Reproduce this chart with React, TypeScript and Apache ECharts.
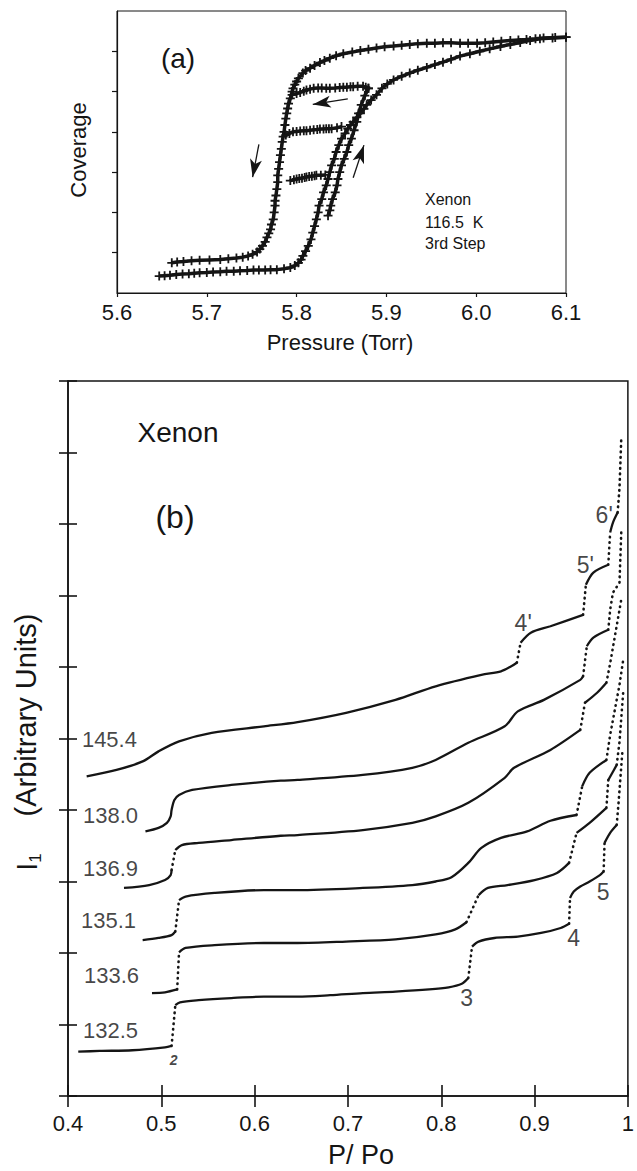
import React, { useEffect, useRef } from "react";
import * as echarts from "echarts";

const FONT = '"Liberation Sans", Arial, Helvetica, sans-serif';
const INK = "#151515";

// ---------------- Panel (a): Xenon 116.5 K, 3rd step ----------------
const pressureTickLabels = ["5.6", "5.7", "5.8", "5.9", "6.0", "6.1"];
const coverageTicks = [1, 2, 3, 4, 5, 6];

const adsorptionBranch = [
  [5.647, 0.42], [5.653, 0.43], [5.659, 0.44], [5.666, 0.46], [5.673, 0.47], [5.68, 0.48], [5.686, 0.49],
  [5.692, 0.5], [5.7, 0.51], [5.707, 0.52], [5.715, 0.53], [5.722, 0.54], [5.73, 0.54], [5.737, 0.55],
  [5.745, 0.56], [5.752, 0.57], [5.758, 0.57], [5.765, 0.57], [5.771, 0.58], [5.778, 0.58], [5.786, 0.6],
  [5.793, 0.63], [5.798, 0.68], [5.802, 0.75], [5.805, 0.83], [5.807, 0.92], [5.81, 1.04], [5.813, 1.17],
  [5.816, 1.33], [5.818, 1.5], [5.82, 1.66], [5.822, 1.83], [5.824, 2.0], [5.825, 2.17], [5.828, 2.33],
  [5.83, 2.5], [5.833, 2.67], [5.835, 2.83], [5.837, 3.0], [5.839, 3.17], [5.842, 3.33], [5.844, 3.5],
  [5.847, 3.67], [5.85, 3.83], [5.854, 3.96], [5.857, 4.08], [5.86, 4.17], [5.863, 4.25], [5.867, 4.36],
  [5.871, 4.46], [5.875, 4.57], [5.878, 4.67], [5.883, 4.79], [5.889, 4.92], [5.895, 5.08], [5.901, 5.19],
  [5.908, 5.29], [5.917, 5.38], [5.926, 5.46], [5.935, 5.53], [5.945, 5.6], [5.954, 5.67], [5.963, 5.73],
  [5.972, 5.8], [5.982, 5.88], [5.993, 5.94], [6.004, 6.0], [6.015, 6.06], [6.027, 6.12], [6.038, 6.17],
  [6.049, 6.22], [6.06, 6.27], [6.071, 6.31], [6.085, 6.33], [6.1, 6.35],
];
const desorptionBranch = [
  [6.1, 6.35], [6.088, 6.34], [6.075, 6.33], [6.066, 6.31], [6.056, 6.29], [6.047, 6.28], [6.038, 6.27],
  [6.028, 6.25], [6.019, 6.23], [6.01, 6.21], [6.001, 6.2], [5.991, 6.2], [5.982, 6.2], [5.972, 6.21],
  [5.963, 6.21], [5.954, 6.2], [5.945, 6.2], [5.935, 6.19], [5.926, 6.17], [5.917, 6.15], [5.908, 6.13],
  [5.898, 6.11], [5.889, 6.08], [5.88, 6.05], [5.871, 6.02], [5.862, 5.98], [5.852, 5.94], [5.844, 5.89],
  [5.837, 5.83], [5.831, 5.77], [5.826, 5.72], [5.82, 5.65], [5.815, 5.58], [5.81, 5.52], [5.807, 5.46],
  [5.802, 5.33], [5.8, 5.25], [5.798, 5.17], [5.796, 5.08], [5.795, 5.0], [5.793, 4.83], [5.791, 4.7],
  [5.79, 4.58], [5.789, 4.46], [5.788, 4.33], [5.787, 4.17], [5.786, 4.0], [5.785, 3.88], [5.784, 3.75],
  [5.783, 3.58], [5.782, 3.42], [5.781, 3.25], [5.78, 3.08], [5.779, 2.92], [5.779, 2.75], [5.778, 2.58],
  [5.777, 2.42], [5.776, 2.29], [5.776, 2.17], [5.775, 2.0], [5.774, 1.83], [5.772, 1.7], [5.771, 1.58],
  [5.769, 1.48], [5.767, 1.38], [5.765, 1.27], [5.762, 1.17], [5.759, 1.09], [5.756, 1.02], [5.751, 0.96],
  [5.746, 0.92], [5.74, 0.89], [5.733, 0.87], [5.724, 0.85], [5.715, 0.83], [5.703, 0.82], [5.692, 0.81],
  [5.683, 0.8], [5.674, 0.78], [5.667, 0.77], [5.661, 0.75],
];
const scanTop = [
  [5.795, 4.92], [5.8, 4.95], [5.804, 4.98], [5.808, 5.01], [5.811, 5.04], [5.815, 5.06], [5.819, 5.08],
  [5.824, 5.09], [5.828, 5.09], [5.833, 5.08], [5.837, 5.08], [5.843, 5.09], [5.848, 5.1], [5.852, 5.11],
  [5.856, 5.11], [5.86, 5.12], [5.863, 5.12], [5.868, 5.13], [5.874, 5.13], [5.877, 5.11], [5.88, 5.08],
];
const scanMiddle = [
  [5.788, 3.92], [5.792, 3.96], [5.796, 4.0], [5.8, 4.01], [5.804, 4.02], [5.808, 4.03], [5.811, 4.03],
  [5.815, 4.04], [5.819, 4.05], [5.823, 4.06], [5.826, 4.07], [5.83, 4.07], [5.833, 4.08], [5.836, 4.08],
  [5.839, 4.08], [5.845, 4.1], [5.85, 4.13],
];
const scanBottom = [
  [5.793, 2.79], [5.797, 2.81], [5.8, 2.83], [5.803, 2.84], [5.806, 2.85], [5.809, 2.87], [5.811, 2.88],
  [5.814, 2.89], [5.817, 2.9], [5.82, 2.91], [5.822, 2.92], [5.827, 2.92], [5.832, 2.93],
];
const scanRise = [
  [5.835, 1.92], [5.837, 2.05], [5.838, 2.17], [5.84, 2.33], [5.843, 2.5], [5.845, 2.67], [5.846, 2.83],
  [5.848, 3.0], [5.85, 3.17], [5.853, 3.33], [5.856, 3.5], [5.858, 3.67], [5.861, 3.83], [5.864, 4.04],
  [5.867, 4.25], [5.869, 4.46], [5.872, 4.67], [5.876, 4.9], [5.88, 5.08],
];
const arrowsA = [
  [[5.857, 4.82], [5.818, 4.68]],
  [[5.758, 3.69], [5.751, 2.875]],
  [[5.863, 2.86], [5.875, 3.67]],
];

// ---------------- Panel (b): Xenon isotherms, I1 vs P/Po ----------------
const ratioTickLabels = ["0.4", "0.5", "0.6", "0.7", "0.8", "0.9", "1"];
const temperatures = ["132.5", "133.6", "135.1", "136.9", "138.0", "145.4"];
const temperatureLabelAnchors = [
  [0.4455, 0.91], [0.4466, 1.69], [0.4434, 2.45], [0.4455, 3.18], [0.4455, 3.93], [0.4444, 4.98],
];
const stepLabels = ["3", "4", "5", "4'", "5'", "6'"];
const stepLabelAnchors = [
  [0.8272, 1.37], [0.9418, 2.21], [0.9735, 2.86], [0.8878, 6.62], [0.9545, 7.42], [0.9746, 8.13],
];
const secondLayerLabel = "2";
const secondLayerAnchor = [0.5132, 0.5];

const curve1325 = [
  [[0.411, 0.62], [0.434, 0.63], [0.469, 0.64], [0.504, 0.68], [0.511, 0.7]],
  [[0.515, 1.27], [0.52, 1.31], [0.54, 1.34], [0.575, 1.37], [0.61, 1.39], [0.646, 1.39], [0.681, 1.41],
   [0.716, 1.44], [0.751, 1.46], [0.787, 1.49], [0.808, 1.52], [0.822, 1.57], [0.829, 1.65]],
  [[0.833, 2.09], [0.84, 2.16], [0.857, 2.21], [0.882, 2.23], [0.907, 2.28], [0.928, 2.35], [0.937, 2.41]],
  [[0.938, 2.77], [0.942, 2.86], [0.949, 2.93], [0.959, 3.0], [0.97, 3.09], [0.974, 3.14]],
  [[0.975, 3.54], [0.981, 3.68], [0.988, 3.79]],
];
const tail1325 = [[0.99, 4.1], [0.992, 4.45], [0.994, 4.8]];

const curve1336 = [
  [[0.49, 1.44], [0.504, 1.45], [0.517, 1.49]],
  [[0.519, 2.01], [0.526, 2.07], [0.557, 2.11], [0.61, 2.14], [0.646, 2.14], [0.698, 2.16], [0.751, 2.19],
   [0.794, 2.26], [0.815, 2.33], [0.827, 2.43]],
  [[0.84, 2.81], [0.85, 2.91], [0.871, 2.95], [0.9, 3.02], [0.924, 3.12], [0.937, 3.26]],
  [[0.945, 3.68], [0.959, 3.82], [0.977, 4.03]],
  [[0.979, 4.42], [0.988, 4.63]],
];
const tail1336 = [[0.991, 4.95], [0.993, 5.3], [0.995, 5.65]];

const curve1351 = [
  [[0.48, 2.18], [0.497, 2.21], [0.511, 2.25], [0.515, 2.3]],
  [[0.519, 2.74], [0.526, 2.79], [0.557, 2.84], [0.61, 2.88], [0.646, 2.88], [0.716, 2.91], [0.769, 2.95],
   [0.794, 3.0], [0.811, 3.06], [0.829, 3.26], [0.843, 3.47], [0.864, 3.61], [0.892, 3.7], [0.917, 3.85],
   [0.945, 3.93]],
  [[0.951, 4.33], [0.959, 4.52], [0.977, 4.7]],
];
const tail1351 = [[0.981, 5.05], [0.986, 5.4], [0.991, 5.75], [0.995, 6.1]];

const curve1369 = [
  [[0.46, 2.91], [0.487, 2.95], [0.504, 3.02], [0.51, 3.09], [0.511, 3.16]],
  [[0.515, 3.44], [0.522, 3.51], [0.54, 3.54], [0.575, 3.58], [0.628, 3.64], [0.646, 3.65], [0.716, 3.72],
   [0.769, 3.82], [0.794, 3.91], [0.829, 4.1], [0.868, 4.45], [0.878, 4.59], [0.917, 4.84], [0.949, 5.12]],
  [[0.954, 5.5], [0.967, 5.64], [0.977, 5.78]],
];
const tail1369 = [[0.981, 6.05], [0.985, 6.35], [0.989, 6.65], [0.993, 6.95]];

const curve1380 = [
  [[0.483, 3.7], [0.497, 3.75], [0.506, 3.82], [0.51, 3.91], [0.511, 4.0], [0.514, 4.14], [0.519, 4.21],
   [0.533, 4.28], [0.575, 4.35], [0.628, 4.41], [0.646, 4.42], [0.716, 4.49], [0.769, 4.59], [0.794, 4.7],
   [0.829, 4.94], [0.868, 5.17], [0.882, 5.38], [0.91, 5.54], [0.949, 5.82], [0.952, 5.87]],
  [[0.956, 6.29], [0.963, 6.41], [0.979, 6.52]],
];
const tail1380 = [[0.981, 6.8], [0.984, 7.04], [0.991, 7.18], [0.992, 7.55], [0.993, 7.92]];

const curve1454 = [
  [[0.42, 4.47], [0.452, 4.56], [0.48, 4.68], [0.497, 4.82], [0.519, 4.96], [0.554, 5.08], [0.61, 5.17],
   [0.646, 5.23], [0.698, 5.36], [0.751, 5.54], [0.794, 5.73], [0.843, 5.89], [0.864, 5.94], [0.875, 6.01],
   [0.881, 6.06]],
  [[0.885, 6.34], [0.896, 6.48], [0.917, 6.57], [0.952, 6.73]],
  [[0.955, 7.15], [0.963, 7.32], [0.979, 7.43]],
  [[0.981, 7.88], [0.984, 8.02], [0.989, 8.16]],
];
const tail1454 = [[0.991, 8.5], [0.992, 8.86], [0.993, 9.23]];

const isotherms = [
  { segs: curve1325, tail: tail1325 },
  { segs: curve1336, tail: tail1336 },
  { segs: curve1351, tail: tail1351 },
  { segs: curve1369, tail: tail1369 },
  { segs: curve1380, tail: tail1380 },
  { segs: curve1454, tail: tail1454 },
];

const CROSS = "path://M4,0H6V4H10V6H6V10H4V6H0V4H4Z";

function buildOption() {
  const crossSeries = (data: number[][], extra: any = {}) => ({
    type: "line",
    xAxisIndex: 0,
    yAxisIndex: 0,
    data,
    symbol: CROSS,
    symbolSize: 9,
    showSymbol: true,
    silent: true,
    lineStyle: { color: INK, width: 3.5 },
    itemStyle: { color: INK },
    z: 3,
    ...extra,
  });

  const seriesA: any[] = [
    crossSeries(adsorptionBranch),
    crossSeries(desorptionBranch),
    crossSeries(scanMiddle),
    crossSeries(scanBottom),
    crossSeries(scanRise),
    crossSeries(scanTop, {
      markLine: {
        silent: true,
        symbol: ["none", "arrow"],
        symbolSize: 14,
        label: { show: false },
        lineStyle: { type: "solid", color: INK, width: 1.3 },
        data: arrowsA.map(([a, b]) => [
          { coord: a, symbol: "none" },
          { coord: b, symbol: "arrow", symbolSize: [9, 18] },
        ]),
      },
    }),
  ];

  const seriesB: any[] = [];
  const solid = (data: number[][]) => ({
    type: "line",
    xAxisIndex: 1,
    yAxisIndex: 1,
    data,
    symbol: "none",
    smooth: 0.3,
    silent: true,
    lineStyle: { color: INK, width: 2.3 },
    z: 3,
  });
  const dotted = (data: number[][]) => ({
    type: "line",
    xAxisIndex: 1,
    yAxisIndex: 1,
    data,
    symbol: "none",
    silent: true,
    lineStyle: { color: INK, width: 2.6, type: [0.5, 5], cap: "round" },
    z: 3,
  });
  isotherms.forEach((c) => {
    c.segs.forEach((s) => seriesB.push(solid(s)));
    for (let i = 0; i < c.segs.length - 1; i++) {
      const a = c.segs[i][c.segs[i].length - 1];
      const b = c.segs[i + 1][0];
      seriesB.push(dotted([a, b]));
    }
    const last = c.segs[c.segs.length - 1];
    seriesB.push(dotted([last[last.length - 1], ...c.tail]));
  });

  const labelSeries = (names: string[], anchors: number[][], label: any) => ({
    type: "scatter",
    xAxisIndex: 1,
    yAxisIndex: 1,
    silent: true,
    symbolSize: 1,
    itemStyle: { color: "rgba(0,0,0,0)" },
    data: names.map((n, i) => ({ name: n, value: anchors[i] })),
    label: {
      show: true,
      position: "inside",
      formatter: "{b}",
      color: INK,
      textBorderWidth: 0,
      fontFamily: FONT,
      ...label,
    },
    z: 4,
  });
  seriesB.push(labelSeries(temperatures, temperatureLabelAnchors, { fontSize: 22 }));
  seriesB.push(labelSeries(stepLabels, stepLabelAnchors, { fontSize: 23 }));
  seriesB.push(
    labelSeries([secondLayerLabel], [secondLayerAnchor], {
      fontSize: 14,
      fontStyle: "italic",
      fontWeight: "bold",
    })
  );

  const txt = (x: number, y: number, text: string, size: number, extra: any = {}) => ({
    type: "text",
    x,
    y,
    silent: true,
    ...extra,
    style: {
      text,
      fontSize: size,
      fontFamily: FONT,
      fill: INK,
      align: extra.align || "center",
      textAlign: extra.align || "center",
      verticalAlign: "middle",
      textVerticalAlign: "middle",
      ...(extra.style || {}),
    },
  });

  const graphic = [
    txt(178, 58, "(a)", 28),
    txt(425, 199, "Xenon", 16, { align: "left" }),
    txt(425, 222, "116.5  K", 16, { align: "left" }),
    txt(425, 243, "3rd Step", 16, { align: "left" }),
    txt(78, 150, "Coverage", 22, { rotation: Math.PI / 2 }),
    txt(340, 342, "Pressure (Torr)", 22),
    txt(178, 432, "Xenon", 28),
    txt(175, 517, "(b)", 32),
    txt(26, 715, "(Arbitrary Units)", 29, { rotation: Math.PI / 2 }),
    {
      type: "text",
      x: 27,
      y: 862,
      rotation: Math.PI / 2,
      silent: true,
      style: {
        text: "{i|I}{s|1}",
        align: "center",
        textAlign: "center",
        verticalAlign: "middle",
        textVerticalAlign: "middle",
        fill: INK,
        rich: {
          i: { fontSize: 29, fontFamily: FONT, fill: INK, lineHeight: 34 },
          s: { fontSize: 17, fontFamily: FONT, fill: INK, verticalAlign: "bottom" },
        },
      },
    },
    txt(361, 1155, "P/ Po", 27),
  ];

  const hide = { show: false };
  return {
    animation: false,
    backgroundColor: "#ffffff",
    textStyle: { fontFamily: FONT },
    grid: [
      { left: 117, top: 11, width: 449, height: 282, show: true, borderColor: INK, borderWidth: 1, backgroundColor: "transparent" },
      { left: 68, top: 381, width: 567, height: 715, show: true, borderColor: INK, borderWidth: 1.5, backgroundColor: "transparent" },
    ],
    xAxis: [
      {
        gridIndex: 0,
        type: "value",
        position: "bottom",
        min: 5.6,
        max: 6.1,
        interval: 0.1,
        splitLine: hide,
        axisLine: { lineStyle: { color: INK, width: 1.2 } },
        axisTick: { show: true, inside: false, length: 4, lineStyle: { color: INK, width: 1.2 } },
        axisLabel: {
          margin: 8,
          fontSize: 22,
          color: INK,
          fontFamily: FONT,
          formatter: (v: number) => pressureTickLabels[Math.round((v - 5.6) / 0.1)] ?? v.toFixed(1),
        },
      },
      {
        gridIndex: 1,
        type: "value",
        position: "bottom",
        min: 0.4,
        max: 1,
        interval: 0.1,
        splitLine: hide,
        axisLine: { lineStyle: { color: INK, width: 1.6 } },
        axisTick: { show: true, inside: true, length: 11, lineStyle: { color: INK, width: 1.6 } },
        axisLabel: {
          margin: 16,
          fontSize: 22,
          color: INK,
          fontFamily: FONT,
          formatter: (v: number) => ratioTickLabels[Math.round((v - 0.4) / 0.1)] ?? String(v),
        },
      },
      {
        gridIndex: 1,
        type: "value",
        position: "bottom",
        min: 0.4,
        max: 1,
        interval: 0.1,
        splitLine: hide,
        axisLine: hide,
        axisTick: { show: true, inside: false, length: 11, lineStyle: { color: INK, width: 1.6 } },
        axisLabel: hide,
      },
    ],
    yAxis: [
      {
        gridIndex: 0,
        type: "value",
        position: "left",
        min: 0,
        max: 7,
        interval: 1,
        splitLine: hide,
        axisLine: { lineStyle: { color: INK, width: 1.2 } },
        axisTick: { show: true, inside: false, length: 5, customValues: coverageTicks, lineStyle: { color: INK, width: 1.2 } },
        axisLabel: hide,
      },
      {
        gridIndex: 1,
        type: "value",
        position: "left",
        min: 0,
        max: 10,
        interval: 1,
        splitLine: hide,
        axisLine: { lineStyle: { color: INK, width: 1.6 } },
        axisTick: { show: true, inside: true, length: 9, lineStyle: { color: INK, width: 1.6 } },
        axisLabel: hide,
      },
      {
        gridIndex: 1,
        type: "value",
        position: "left",
        min: 0,
        max: 10,
        interval: 1,
        splitLine: hide,
        axisLine: hide,
        axisTick: { show: true, inside: false, length: 9, lineStyle: { color: INK, width: 1.6 } },
        axisLabel: hide,
      },
    ],
    series: [...seriesA, ...seriesB],
    graphic,
  };
}

export default function App() {
  const ref = useRef<HTMLDivElement>(null);
  useEffect(() => {
    document.body.style.margin = "0";
    document.body.style.overflow = "hidden";
    if (!ref.current) return;
    const chart = echarts.init(ref.current, undefined, { renderer: "svg" });
    chart.setOption(buildOption() as any);
    return () => chart.dispose();
  }, []);
  return <div ref={ref} style={{ width: 637, height: 1171, background: "#fff" }} />;
}
